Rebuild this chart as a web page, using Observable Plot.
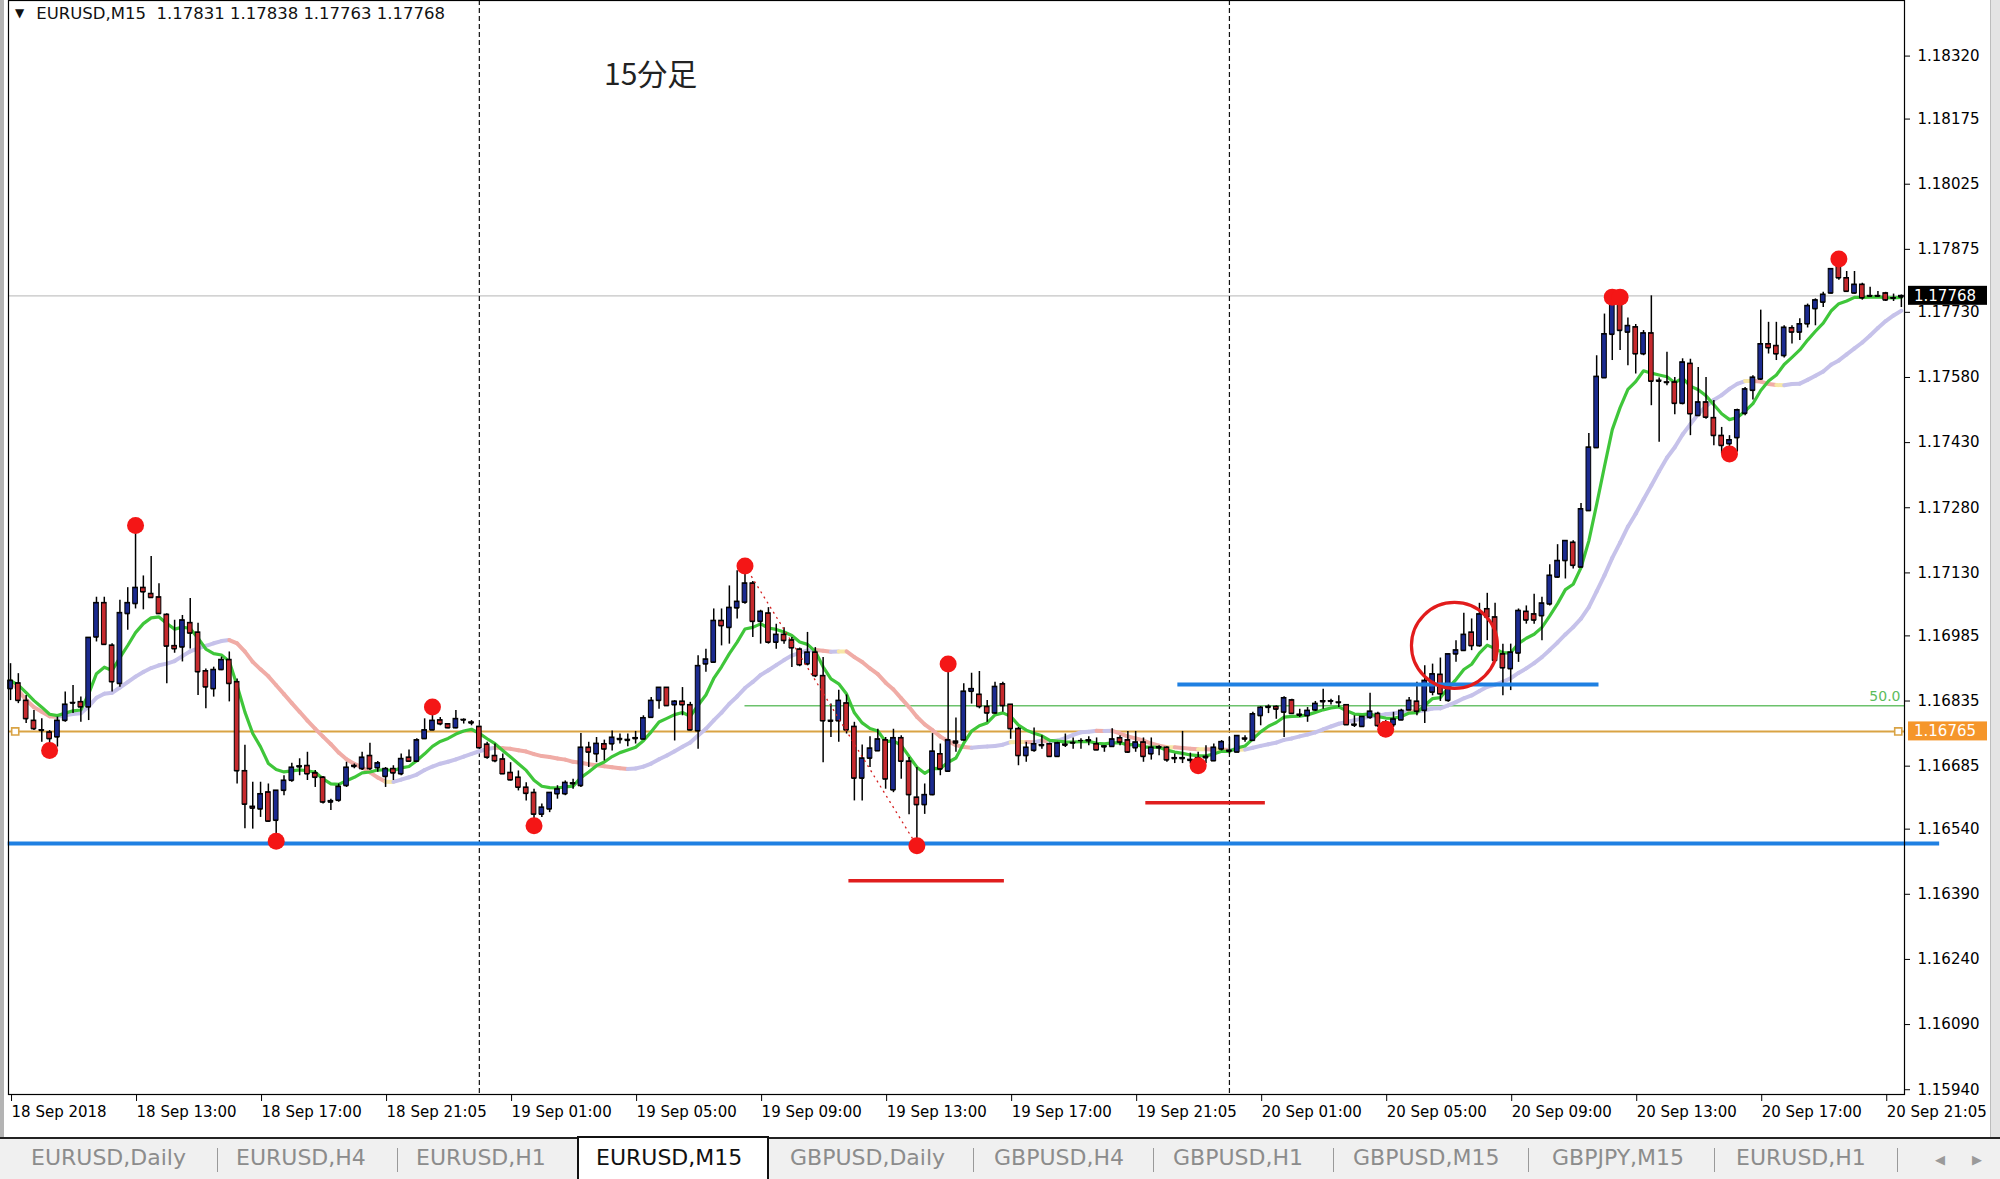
<!DOCTYPE html>
<html><head><meta charset="utf-8">
<script src="https://cdn.jsdelivr.net/npm/d3@7"></script>
<script src="https://cdn.jsdelivr.net/npm/@observablehq/plot@0.6"></script>
<style>
html,body{margin:0;padding:0;background:#fff;}
#wrap{position:relative;width:2000px;height:1179px;overflow:hidden;background:#fff;font-family:"DejaVu Sans",sans-serif;}
#chart{position:absolute;left:0;top:0;}
#hdr{position:absolute;left:15px;top:4px;font-size:16.5px;color:#111;white-space:pre;line-height:20px;}
#hdr .tri{font-size:12px;position:relative;top:-2px;margin-right:12px;}
#note{position:absolute;left:604px;top:56px;font-family:"Noto Sans CJK JP",sans-serif;font-size:30px;line-height:32px;color:#222;}
#tabs{position:absolute;left:0;top:1137px;width:2000px;height:42px;background:#f0f0f0;border-top:2px solid #222;box-sizing:border-box;}
.tab{position:absolute;top:6px;font-size:22px;color:#8c8c8c;white-space:nowrap;}
.sep{position:absolute;top:9px;width:1px;height:24px;background:#9a9a9a;}
#active{position:absolute;left:577px;top:-3px;width:192px;height:45px;background:#fff;border:2px solid #111;border-bottom:none;box-sizing:border-box;}
#leftbar{position:absolute;left:0;top:0;width:4px;height:1137px;background:#b4b4b4;}
#rightbar{position:absolute;left:1990px;top:0;width:10px;height:1137px;background:#e4e4e4;border-left:1px solid #bdbdbd;box-sizing:border-box;}
</style></head>
<body><div id="wrap">
<div id="chart"></div>
<div id="leftbar"></div>
<div id="rightbar"></div>
<div id="hdr"><span class="tri">▼</span>EURUSD,M15  1.17831 1.17838 1.17763 1.17768</div>
<div id="note">15分足</div>
<div id="tabs"></div>
</div>
<script>
// ---- candle data (EURUSD M15, bar index 0 = 18 Sep 09:00) ----
const opens = [
1.16863,1.16876,1.16836,1.16790,1.16767,1.16763,1.16752,1.16790,1.16830,1.16833,
1.16821,1.16982,1.17061,1.16963,1.16875,1.17036,1.17059,1.17096,1.17082,1.17074,
1.17034,1.16962,1.16959,1.17015,1.16993,1.16904,1.16863,1.16907,1.16930,1.16879,
1.16674,1.16592,1.16586,1.16625,1.16560,1.16629,1.16652,1.16683,1.16686,1.16669,
1.16659,1.16602,1.16606,1.16640,1.16684,1.16679,1.16709,1.16681,1.16661,1.16679,
1.16667,1.16705,1.16696,1.16748,1.16768,1.16791,1.16782,1.16773,1.16792,1.16786,
1.16776,1.16735,1.16709,1.16701,1.16670,1.16659,1.16636,1.16624,1.16574,1.16586,
1.16621,1.16621,1.16646,1.16640,1.16728,1.16713,1.16736,1.16736,1.16746,1.16746,
1.16748,1.16747,1.16797,1.16836,1.16866,1.16826,1.16834,1.16826,1.16766,1.16920,
1.16924,1.17020,1.17004,1.17049,1.17062,1.17106,1.17018,1.17037,1.16970,1.16988,
1.16975,1.16954,1.16920,1.16947,1.16893,1.16790,1.16789,1.16830,1.16776,1.16657,
1.16703,1.16720,1.16745,1.16630,1.16750,1.16696,1.16613,1.16596,1.16619,1.16713,
1.16673,1.16742,1.16745,1.16857,1.16850,1.16822,1.16807,1.16874,1.16827,1.16771,
1.16709,1.16721,1.16732,1.16736,1.16707,1.16733,1.16738,1.16744,1.16743,1.16736,
1.16729,1.16730,1.16750,1.16745,1.16727,1.16740,1.16713,1.16729,1.16728,1.16704,
1.16702,1.16700,1.16700,1.16704,1.16697,1.16724,1.16721,1.16717,1.16749,1.16744,
1.16801,1.16820,1.16822,1.16809,1.16837,1.16804,1.16801,1.16814,1.16833,1.16835,
1.16832,1.16826,1.16781,1.16776,1.16797,1.16806,1.16786,1.16780,1.16791,1.16814,
1.16834,1.16813,1.16855,1.16896,1.16836,1.16943,1.16951,1.16993,1.16962,1.17047,
1.17028,1.16943,1.16909,1.16945,1.17041,1.17035,1.17031,1.17058,1.17120,1.17158,
1.17200,1.17143,1.17273,1.17418,1.17579,1.17679,1.17761,1.17684,1.17696,1.17634,
1.17682,1.17573,1.17569,1.17569,1.17520,1.17612,1.17492,1.17523,1.17487,1.17446,
1.17427,1.17441,1.17497,1.17550,1.17576,1.17657,1.17653,1.17630,1.17694,1.17684,
1.17703,1.17738,1.17753,1.17774,1.17837,1.17809,1.17774,1.17794,1.17768,1.17767,
1.17774,1.17763,1.17765];
const highs = [
1.16921,1.16898,1.16848,1.16813,1.16794,1.16767,1.16798,1.16856,1.16871,1.16844,
1.16981,1.17074,1.17074,1.16967,1.17067,1.17096,1.17239,1.17123,1.17168,1.17105,
1.17036,1.17021,1.17032,1.17071,1.17014,1.16909,1.16913,1.16936,1.16948,1.16886,
1.16733,1.16648,1.16648,1.16644,1.16629,1.16663,1.16692,1.16702,1.16717,1.16675,
1.16661,1.16609,1.16644,1.16694,1.16690,1.16717,1.16738,1.16696,1.16682,1.16686,
1.16713,1.16722,1.16748,1.16794,1.16821,1.16797,1.16782,1.16813,1.16794,1.16790,
1.16778,1.16740,1.16736,1.16713,1.16693,1.16674,1.16647,1.16632,1.16598,1.16624,
1.16640,1.16651,1.16655,1.16760,1.16740,1.16751,1.16745,1.16766,1.16759,1.16759,
1.16765,1.16801,1.16843,1.16866,1.16866,1.16836,1.16866,1.16832,1.16939,1.16954,
1.17047,1.17047,1.17100,1.17135,1.17146,1.17110,1.17044,1.17050,1.17012,1.17004,
1.16981,1.16957,1.16993,1.16958,1.16935,1.16828,1.16860,1.16849,1.16786,1.16734,
1.16753,1.16770,1.16751,1.16770,1.16755,1.16705,1.16682,1.16644,1.16760,1.16736,
1.16920,1.16796,1.16875,1.16899,1.16903,1.16836,1.16878,1.16878,1.16827,1.16774,
1.16740,1.16773,1.16755,1.16738,1.16740,1.16759,1.16750,1.16748,1.16753,1.16750,
1.16732,1.16771,1.16755,1.16765,1.16765,1.16750,1.16750,1.16732,1.16730,1.16713,
1.16765,1.16715,1.16717,1.16732,1.16736,1.16744,1.16751,1.16755,1.16755,1.16809,
1.16822,1.16826,1.16824,1.16845,1.16839,1.16816,1.16820,1.16834,1.16862,1.16839,
1.16847,1.16826,1.16801,1.16799,1.16853,1.16809,1.16790,1.16809,1.16816,1.16843,
1.16878,1.16916,1.16920,1.16934,1.16943,1.16974,1.17037,1.17024,1.17060,1.17083,
1.17060,1.16966,1.16966,1.17047,1.17054,1.17081,1.17074,1.17149,1.17195,1.17204,
1.17204,1.17290,1.17451,1.17630,1.17726,1.17765,1.17765,1.17717,1.17702,1.17688,
1.17768,1.17579,1.17638,1.17580,1.17623,1.17622,1.17603,1.17580,1.17527,1.17465,
1.17446,1.17507,1.17557,1.17584,1.17735,1.17707,1.17707,1.17699,1.17699,1.17715,
1.17749,1.17761,1.17776,1.17830,1.17853,1.17824,1.17824,1.17797,1.17788,1.17778,
1.17776,1.17772,1.17770];
const lows = [
1.16836,1.16829,1.16783,1.16767,1.16740,1.16721,1.16729,1.16786,1.16806,1.16786,
1.16790,1.16971,1.16963,1.16856,1.16867,1.16998,1.17047,1.17045,1.17071,1.17034,
1.16875,1.16945,1.16925,1.16955,1.16848,1.16817,1.16844,1.16905,1.16833,1.16644,
1.16541,1.16540,1.16567,1.16556,1.16512,1.16617,1.16648,1.16663,1.16652,1.16636,
1.16598,1.16583,1.16602,1.16636,1.16679,1.16675,1.16675,1.16671,1.16636,1.16652,
1.16663,1.16694,1.16694,1.16748,1.16767,1.16778,1.16771,1.16771,1.16782,1.16778,
1.16725,1.16701,1.16693,1.16667,1.16651,1.16628,1.16605,1.16548,1.16567,1.16578,
1.16609,1.16617,1.16632,1.16636,1.16682,1.16693,1.16697,1.16720,1.16736,1.16730,
1.16736,1.16747,1.16797,1.16816,1.16824,1.16743,1.16801,1.16766,1.16724,1.16901,
1.16924,1.16962,1.16966,1.17024,1.17058,1.16981,1.16966,1.16966,1.16954,1.16966,
1.16912,1.16914,1.16916,1.16889,1.16693,1.16751,1.16740,1.16759,1.16605,1.16605,
1.16682,1.16719,1.16632,1.16624,1.16655,1.16573,1.16502,1.16574,1.16617,1.16663,
1.16673,1.16717,1.16743,1.16828,1.16817,1.16786,1.16805,1.16809,1.16747,1.16686,
1.16694,1.16717,1.16724,1.16705,1.16705,1.16728,1.16724,1.16724,1.16732,1.16721,
1.16717,1.16728,1.16732,1.16714,1.16717,1.16694,1.16699,1.16709,1.16694,1.16691,
1.16691,1.16690,1.16686,1.16691,1.16697,1.16720,1.16713,1.16717,1.16740,1.16744,
1.16778,1.16806,1.16793,1.16751,1.16806,1.16797,1.16786,1.16811,1.16816,1.16826,
1.16820,1.16780,1.16774,1.16776,1.16793,1.16774,1.16770,1.16774,1.16790,1.16813,
1.16801,1.16783,1.16847,1.16834,1.16832,1.16924,1.16949,1.16951,1.16959,1.16974,
1.16924,1.16847,1.16859,1.16924,1.17012,1.17012,1.16974,1.17054,1.17118,1.17116,
1.17139,1.17143,1.17273,1.17418,1.17579,1.17619,1.17642,1.17607,1.17588,1.17630,
1.17515,1.17431,1.17561,1.17494,1.17517,1.17446,1.17492,1.17484,1.17423,1.17404,
1.17404,1.17408,1.17492,1.17528,1.17573,1.17634,1.17619,1.17625,1.17657,1.17665,
1.17694,1.17699,1.17741,1.17772,1.17804,1.17776,1.17772,1.17758,1.17764,1.17764,
1.17755,1.17755,1.17741];
const closes = [
1.16882,1.16836,1.16794,1.16771,1.16768,1.16748,1.16790,1.16827,1.16831,1.16821,
1.16981,1.17061,1.16965,1.16879,1.17038,1.17061,1.17096,1.17086,1.17073,1.17036,
1.16961,1.16955,1.17021,1.16991,1.16902,1.16867,1.16907,1.16930,1.16875,1.16674,
1.16597,1.16588,1.16621,1.16558,1.16629,1.16652,1.16682,1.16685,1.16667,1.16659,
1.16602,1.16605,1.16638,1.16682,1.16686,1.16705,1.16679,1.16692,1.16679,1.16669,
1.16702,1.16696,1.16745,1.16768,1.16790,1.16782,1.16773,1.16794,1.16791,1.16784,
1.16727,1.16705,1.16697,1.16667,1.16653,1.16636,1.16622,1.16574,1.16590,1.16624,
1.16632,1.16647,1.16644,1.16728,1.16717,1.16737,1.16724,1.16751,1.16748,1.16744,
1.16750,1.16796,1.16836,1.16866,1.16824,1.16834,1.16826,1.16768,1.16916,1.16931,
1.17020,1.17008,1.17050,1.17064,1.17106,1.17018,1.17041,1.16970,1.16988,1.16974,
1.16957,1.16918,1.16947,1.16893,1.16789,1.16788,1.16836,1.16768,1.16657,1.16703,
1.16726,1.16747,1.16655,1.16750,1.16696,1.16619,1.16596,1.16619,1.16719,1.16678,
1.16745,1.16738,1.16857,1.16863,1.16822,1.16807,1.16868,1.16824,1.16771,1.16709,
1.16728,1.16736,1.16734,1.16707,1.16738,1.16735,1.16739,1.16744,1.16745,1.16722,
1.16731,1.16747,1.16740,1.16717,1.16740,1.16707,1.16728,1.16727,1.16699,1.16702,
1.16704,1.16698,1.16704,1.16707,1.16728,1.16741,1.16719,1.16755,1.16747,1.16805,
1.16820,1.16822,1.16816,1.16842,1.16806,1.16802,1.16813,1.16829,1.16835,1.16834,
1.16831,1.16780,1.16779,1.16799,1.16811,1.16778,1.16784,1.16793,1.16813,1.16836,
1.16811,1.16882,1.16897,1.16851,1.16943,1.16952,1.16988,1.16962,1.17035,1.17028,
1.16928,1.16911,1.16947,1.17043,1.17021,1.17021,1.17060,1.17124,1.17158,1.17204,
1.17147,1.17277,1.17419,1.17582,1.17680,1.17757,1.17688,1.17699,1.17634,1.17682,
1.17571,1.17571,1.17568,1.17520,1.17615,1.17496,1.17523,1.17488,1.17446,1.17423,
1.17436,1.17505,1.17553,1.17580,1.17657,1.17648,1.17634,1.17695,1.17684,1.17703,
1.17745,1.17758,1.17771,1.17830,1.17809,1.17778,1.17794,1.17763,1.17767,1.17768,
1.17758,1.17762,1.17768];

// ---- axis ticks ----
const xTickIdx = [0,16,32,48,64,80,96,112,128,144,160,176,192,208,224,240];
const xLabels = ["18 Sep 2018","18 Sep 13:00","18 Sep 17:00","18 Sep 21:05","19 Sep 01:00","19 Sep 05:00",
  "19 Sep 09:00","19 Sep 13:00","19 Sep 17:00","19 Sep 21:05","20 Sep 01:00","20 Sep 05:00",
  "20 Sep 09:00","20 Sep 13:00","20 Sep 17:00","20 Sep 21:05"];
const yTicks = [1.18320,1.18175,1.18025,1.17875,1.17730,1.17580,1.17430,1.17280,1.17130,
  1.16985,1.16835,1.16685,1.16540,1.16390,1.16240,1.16090,1.15940];

// ---- chart objects ----
const daySeparators = [60, 156];
const bidPrice = 1.17768;
const orangeLevel = 1.16765;
const orangeAnchors = [0.6, 241.6];
const supportLines = [{price: 1.16507, from: -0.3, to: 246.9}, {price: 1.16873, from: 149.4, to: 203.3}];
const redLevels = [{price: 1.16421, from: 107.3, to: 127.2}, {price: 1.16601, from: 145.3, to: 160.6}];
const fibLevels = [{price: 1.16824, from: 94, to: 242.4, label: "50.0"}];
const swingHighIdx = [16, 54, 94, 120, 205, 206, 234];
const swingLowIdx = [5, 34, 67, 116, 152, 176, 220];
const diagonal = [{from: 94, to: 116}];
const circleNote = [{i: 184.8, price: 1.16963}];
const axisBoxes = [{price: 1.17768, fill: "#000000"}, {price: 1.16765, fill: "#f5962b"}];
const tabNames = ["EURUSD,Daily","EURUSD,H4","EURUSD,H1","EURUSD,M15","GBPUSD,Daily","GBPUSD,H4","GBPUSD,H1","GBPUSD,M15","GBPJPY,M15","EURUSD,H1"];
const activeTab = "EURUSD,M15";

// ---- derived ----
const n = closes.length;
const bars = d3.range(n).map(i => ({i, open: opens[i], high: highs[i], low: lows[i], close: closes[i]}));
const fast = []; { let e = closes[0]; for (let i = 0; i < n; i++) { if (i) e = e + (2/9) * (closes[i] - e); fast.push({i, v: e}); } }
const slowV = closes.map((_, i) => d3.mean(closes.slice(Math.max(0, i - 19), i + 1)));
const slowSeg = d3.range(1, n).map(i => {
  const d = slowV[i] - slowV[i-1];
  return {i0: i-1, i1: i, v0: slowV[i-1], v1: slowV[i], c: d > 0.000004 ? "#c6c2ea" : d < -0.000004 ? "#f0aca6" : "#f7e7a6"};
});
const highDots = swingHighIdx.map(i => ({i, p: highs[i]}));
const lowDots = swingLowIdx.map(i => ({i, p: lows[i]}));
const diag = diagonal.map(d => ({x1: d.from, y1: highs[d.from], x2: d.to, y2: lows[d.to]}));
const bw = 0.3;

const chart = Plot.plot({
  width: 2000, height: 1137,
  marginTop: 0, marginLeft: 8, marginRight: 96, marginBottom: 43,
  x: {type: "linear", domain: [-0.26, 242.4]},
  y: {type: "linear", domain: [1.15929, 1.18448]},
  color: {type: "identity"},
  style: {fontFamily: "DejaVu Sans", fontSize: "15px", color: "black", background: "white", overflow: "visible"},
  marks: [
    Plot.ruleY([bidPrice], {stroke: "#c4c4c4", strokeWidth: 1.2}),
    Plot.ruleX(daySeparators, {stroke: "#111", strokeDasharray: "5,3", strokeWidth: 1.2}),
    Plot.ruleY(fibLevels, {y: "price", x1: "from", x2: "to", stroke: "#6cc26c", strokeWidth: 1.5}),
    Plot.text(fibLevels, {x: "to", y: "price", text: "label", textAnchor: "end", dx: -4, dy: -9, fill: "#5cbc5c", fontSize: 14}),
    Plot.ruleY([orangeLevel], {stroke: "#d9a344", strokeWidth: 2}),
    Plot.link(slowSeg, {x1: "i0", y1: "v0", x2: "i1", y2: "v1", stroke: "c", strokeWidth: 4, strokeLinecap: "round"}),
    Plot.line(fast, {x: "i", y: "v", stroke: "#3fc63a", strokeWidth: 3.2}),
    Plot.ruleX(bars, {x: "i", y1: "low", y2: "high", stroke: "#000", strokeWidth: 1.5}),
    Plot.rect(bars, {x1: d => d.i - bw, x2: d => d.i + bw, y1: "open", y2: "close",
      fill: d => d.close >= d.open ? "#1b2a8f" : "#c62a2e", stroke: "#000", strokeWidth: 1}),
    Plot.ruleY(bars, {y: "open", x1: d => d.i - bw, x2: d => d.i + bw, stroke: "#000", strokeWidth: 1.2}),
    Plot.ruleY(bars, {y: "close", x1: d => d.i - bw, x2: d => d.i + bw, stroke: "#000", strokeWidth: 1.2}),
    Plot.ruleY(supportLines, {y: "price", x1: "from", x2: "to", stroke: "#1f80e2", strokeWidth: 4}),
    Plot.ruleY(redLevels, {y: "price", x1: "from", x2: "to", stroke: "#e01e1e", strokeWidth: 3.5}),
    Plot.dot(orangeAnchors, {x: d => d, y: () => orangeLevel, symbol: "square", r: 4, fill: "white", stroke: "#d9a344", strokeWidth: 1.6}),
    Plot.link(diag, {x1: "x1", y1: "y1", x2: "x2", y2: "y2", stroke: "#d42020", strokeWidth: 1.3, strokeDasharray: "2,4"}),
    Plot.dot(highDots, {x: "i", y: "p", r: 8.5, fill: "#f41616"}),
    Plot.dot(lowDots, {x: "i", y: "p", r: 8.5, fill: "#f41616"}),
    Plot.dot(circleNote, {x: "i", y: "price", r: 43, stroke: "#e21c1c", strokeWidth: 3.2, fill: "none"}),
    Plot.frame({stroke: "#000", strokeWidth: 1.2}),
    Plot.axisY(yTicks, {anchor: "right", tickSize: 5, tickPadding: 8, tickFormat: d => d.toFixed(5), fontSize: 15, label: null}),
    Plot.axisX(xTickIdx, {anchor: "bottom", tickSize: 7, tickPadding: 5, tickFormat: d => xLabels[xTickIdx.indexOf(d)], textAnchor: "start", dx: 1, fontSize: 15, label: null})
  ]
});
document.getElementById("chart").appendChild(chart);

// price boxes on the right scale
const ys = chart.scale("y");
const svg = d3.select(chart);
for (const b of axisBoxes) {
  const yy = ys.apply(b.price);
  svg.append("rect").attr("x", 1908).attr("y", yy - 9.5).attr("width", 79).attr("height", 19).attr("fill", b.fill);
  svg.append("text").attr("x", 1914).attr("y", yy).attr("dy", "0.35em").attr("fill", "white")
    .attr("text-anchor", "start").attr("font-family", "DejaVu Sans").attr("font-size", 15).text(b.price.toFixed(5));
}

// tab bar
const tabLeft = [31, 236, 416, 596, 790, 994, 1173, 1353, 1552, 1736];
const sepLeft = [217, 397, 973, 1153, 1333, 1528, 1714, 1897];
const tabs = document.getElementById("tabs");
const act = document.createElement("div"); act.id = "active"; tabs.appendChild(act);
tabNames.forEach((t, k) => {
  const el = document.createElement("div"); el.className = "tab"; el.textContent = t;
  el.style.left = tabLeft[k] + "px";
  if (t === activeTab && k === 3) el.style.color = "#111";
  tabs.appendChild(el);
});
sepLeft.forEach(x => { const s = document.createElement("div"); s.className = "sep"; s.style.left = x + "px"; tabs.appendChild(s); });
["◀", "▶"].forEach((a, k) => { const el = document.createElement("div"); el.className = "tab"; el.style.fontSize = "13px"; el.style.top = "13px"; el.style.color = "#9a9a9a"; el.style.left = (1935 + k * 37) + "px"; el.textContent = a; tabs.appendChild(el); });
</script>
</body></html>
